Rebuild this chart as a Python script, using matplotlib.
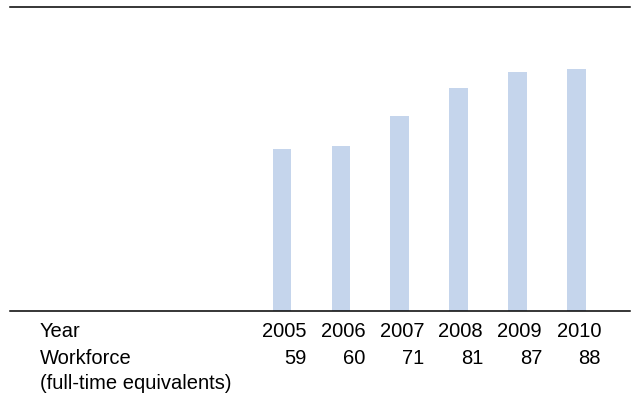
import matplotlib
matplotlib.use("Agg")
import matplotlib.pyplot as plt
import matplotlib.transforms as mtransforms

years = ["2005", "2006", "2007", "2008", "2009", "2010"]
workforce = [59, 60, 71, 81, 87, 88]
row_labels = ["Year", "Workforce", "(full-time equivalents)"]

W, H = 636, 396
fig = plt.figure(figsize=(W / 100, H / 100), dpi=100)
plt.rcParams['font.family'] = ['Liberation Sans', 'DejaVu Sans']

left, right, top, bottom = 10, 630, 7, 311
ax = fig.add_axes([left / W, (H - bottom) / H, (right - left) / W, (bottom - top) / H])

x = list(range(len(years)))
ax.bar(x, workforce, width=0.32, color="#c5d5ec", zorder=2)
ax.set_xlim(-4.61, 5.90)
ax.set_ylim(0, 110.5)
ax.set_xticks([])
ax.set_yticks([])
for s in ["left", "right"]:
    ax.spines[s].set_visible(False)
for s in ["top", "bottom"]:
    ax.spines[s].set_linewidth(1.1)
    ax.spines[s].set_color("black")

fs = 14.5
trans = mtransforms.blended_transform_factory(ax.transData, fig.transFigure)
row_y = [337, 364, 389]
for i, (yr, v) in enumerate(zip(years, workforce)):
    ax.text(i + 0.41, (H - row_y[0]) / H, yr, transform=trans, ha="right", va="baseline", fontsize=fs)
    ax.text(i + 0.41, (H - row_y[1]) / H, str(v), transform=trans, ha="right", va="baseline", fontsize=fs)

for lab, yy in zip(row_labels, row_y):
    fig.text(40 / W, (H - yy) / H, lab, ha="left", va="baseline", fontsize=fs)

fig.savefig("out.png", dpi=100)
